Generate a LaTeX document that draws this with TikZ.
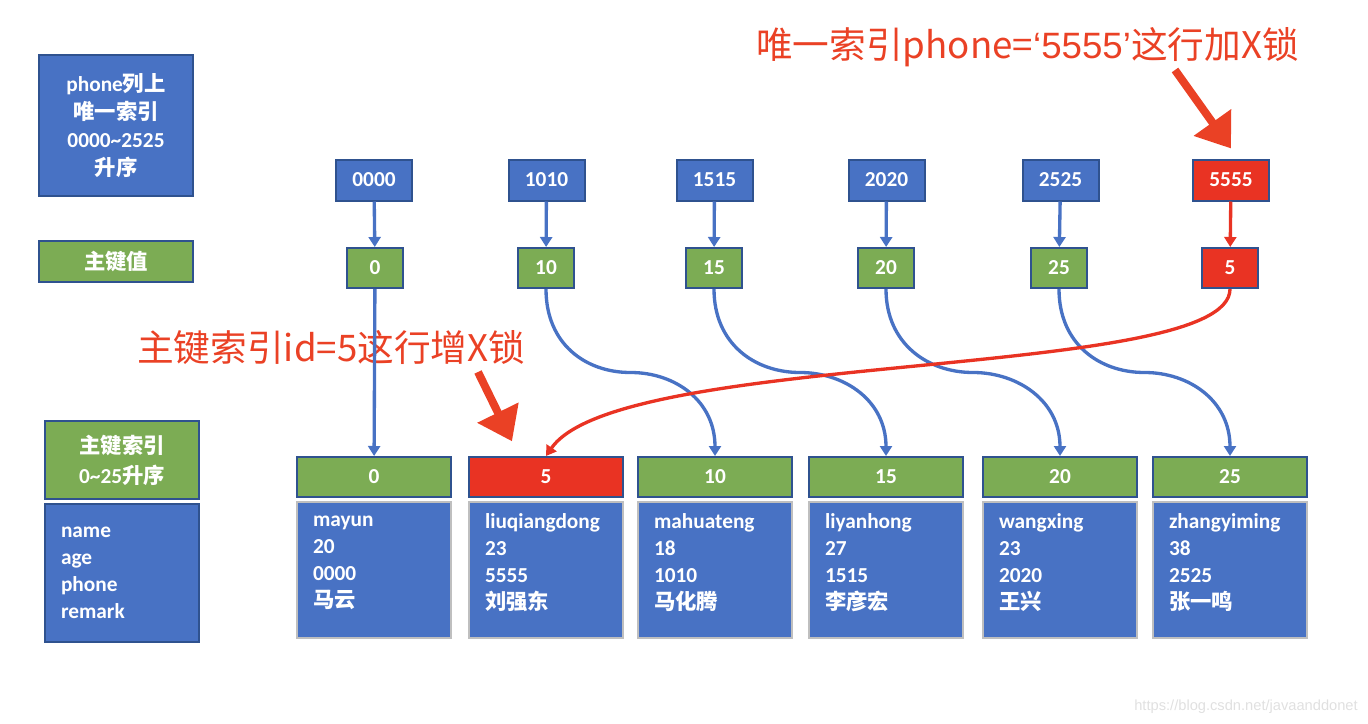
\documentclass[tikz,border=0pt]{standalone}
\usepackage{fontspec}
\setmainfont{Carlito}
\newfontfamily\zhfont{Noto Sans CJK SC}
\newfontfamily\wmfont{Liberation Sans}
\usepackage{tikz}
\usetikzlibrary{arrows.meta, positioning, calc}
\definecolor{IdxBlue}{RGB}{72, 114, 196}
\definecolor{IdxBorder}{RGB}{47, 82, 143}
\definecolor{KeyGreen}{RGB}{124, 172, 84}
\definecolor{LockRed}{RGB}{233, 51, 35}
\definecolor{RecBorder}{RGB}{191, 191, 191}
\definecolor{LabelRed}{RGB}{234, 65, 37}
\newcommand{\zh}[1]{{\zhfont #1}}
\newcommand{\lat}[1]{{\wmfont #1}}

\tikzset{
  idxbox/.style={draw=IdxBorder, line width=1.5pt, fill=IdxBlue, text=white, inner sep=0pt,
    align=center, font=\bfseries\fontsize{16}{21}\selectfont},
  phonekey/.style={idxbox, minimum width=57pt, minimum height=30.75pt},
  pkey/.style={idxbox, fill=KeyGreen, minimum width=42pt, minimum height=30pt},
  rowhead/.style={idxbox, fill=KeyGreen, minimum width=115.5pt, minimum height=30pt},
  rowbody/.style={idxbox, draw=RecBorder, minimum width=115.5pt, minimum height=102pt,
    text width=91.5pt, inner xsep=12pt, align=left,
    font=\bfseries\fontsize{16}{20.25}\selectfont,
    execute at end node={\rule[-12pt]{0pt}{12pt}}},
  link/.style={draw=IdxBlue, line width=2.5pt, -{Triangle[length=7.5pt,width=9pt]}},
  locklink/.style={link, draw=LockRed},
  pointer/.style={draw=LabelRed, line width=6pt, -{Triangle[length=24pt,width=33pt]}},
  locklabel/.style={text=LabelRed, inner sep=0pt, font=\zhfont\fontsize{27.5}{32}\selectfont},
}

\begin{document}
\begin{tikzpicture}[x=0.75pt,y=-0.75pt]
  \path[use as bounding box] (0,0) rectangle (1368,724);

  % legend
  \node[idxbox, minimum width=115.5pt, minimum height=105.75pt] (legphone) at (116,125.5)
    {phone\zh{列上}\\\zh{唯一索引}\\0000\textasciitilde2525\\\zh{升序}};
  \node[idxbox, fill=KeyGreen, minimum width=115.5pt, minimum height=30.75pt] (legpk) at (116,261.5)
    {\zh{主键值}};
  \node[idxbox, fill=KeyGreen, minimum width=115.5pt, minimum height=58.5pt,
    font=\bfseries\fontsize{16}{22.5}\selectfont] (legpkidx) at (122,460)
    {\zh{主键索引}\\0\textasciitilde25\zh{升序}};
  \node[idxbox, minimum width=115.5pt, minimum height=103.5pt, text width=91.5pt,
    inner xsep=12pt, align=left, font=\bfseries\fontsize{16}{20.25}\selectfont,
    below=2pt of legpkidx] (legrow) {name\\age\\phone\\remark};

  % unique index on phone
  \node[phonekey] (t0000) at (374,180) {0000};
  \node[phonekey] (t1010) at (546.5,180) {1010};
  \node[phonekey] (t1515) at (714.5,180) {1515};
  \node[phonekey] (t2020) at (886.5,180) {2020};
  \node[phonekey] (t2525) at (1060.5,180) {2525};
  \node[phonekey, fill=LockRed] (t5555) at (1231,180) {5555};

  % primary key values
  \node[pkey] (k0) at (375,268) {0};
  \node[pkey] (k10) at (546,268) {10};
  \node[pkey] (k15) at (714,268) {15};
  \node[pkey] (k20) at (886,268) {20};
  \node[pkey] (k25) at (1059,268) {25};
  \node[pkey, fill=LockRed] (k5) at (1230,268) {5};

  % clustered index rows
  \node[rowhead] (h0) at (374,477) {0};
  \node[rowbody, below=2pt of h0] (r0) {mayun\\20\\0000\\\zh{马云}};
  \node[rowhead, fill=LockRed] (h5) at (546,477) {5};
  \node[rowbody, below=2pt of h5] (r5) {liuqiangdong\\23\\5555\\\zh{刘强东}};
  \node[rowhead] (h10) at (715,477) {10};
  \node[rowbody, below=2pt of h10] (r10) {mahuateng\\18\\1010\\\zh{马化腾}};
  \node[rowhead] (h15) at (886,477) {15};
  \node[rowbody, below=2pt of h15] (r15) {liyanhong\\27\\1515\\\zh{李彦宏}};
  \node[rowhead] (h20) at (1060,477) {20};
  \node[rowbody, below=2pt of h20] (r20) {wangxing\\23\\2020\\\zh{王兴}};
  \node[rowhead] (h25) at (1230,477) {25};
  \node[rowbody, below=2pt of h25] (r25) {zhangyiming\\38\\2525\\\zh{张一鸣}};

  % lock notes
  \node[locklabel, anchor=west] (notephone) at (756,47) {唯一索引phone=\lat{‘5555’}这行加X锁};
  \node[locklabel, anchor=west] (noteid) at (137,348) {主键索引id=5这行增X锁};
  \coordinate (tailphone) at (1175,70);
  \coordinate (tailid) at (478,372);
  \draw[pointer] (tailphone) -- ([yshift=7.5pt]t5555.north);
  \draw[pointer] (tailid) -- ([shift={(33pt,11pt)}]h5.north west);

  % phone -> id
  \draw[link] (t0000) -- (k0);
  \draw[link] (t1010) -- (k10);
  \draw[link] (t1515) -- (k15);
  \draw[link] (t2020) -- (k20);
  \draw[link] (t2525) -- (k25);
  \draw[locklink] (t5555) -- (k5);

  % id -> row
  \draw[link] (k0) -- (h0);
  \draw[link] (k10.south) .. controls +(0,55) and +(-45,0) .. ($(k10.south)!0.5!(h10.north)$)
    .. controls +(45,0) and +(0,-55) .. (h10.north);
  \draw[link] (k15.south) .. controls +(0,55) and +(-45,0) .. ($(k15.south)!0.5!(h15.north)$)
    .. controls +(45,0) and +(0,-55) .. (h15.north);
  \draw[link] (k20.south) .. controls +(0,55) and +(-45,0) .. ($(k20.south)!0.5!(h20.north)$)
    .. controls +(45,0) and +(0,-55) .. (h20.north);
  \draw[link] (k25.south) .. controls +(0,55) and +(-45,0) .. ($(k25.south)!0.5!(h25.north)$)
    .. controls +(45,0) and +(0,-55) .. (h25.north);
  \draw[locklink] (k5.south) .. controls +(0,92) and +(74,-107) .. (h5.north);

  \node[anchor=east, inner sep=0pt, text=black!12, font=\wmfont\fontsize{11}{13}\selectfont] (mark)
    at (1358,707) {https://blog.csdn.net/javaanddonet};
\end{tikzpicture}
\end{document}
